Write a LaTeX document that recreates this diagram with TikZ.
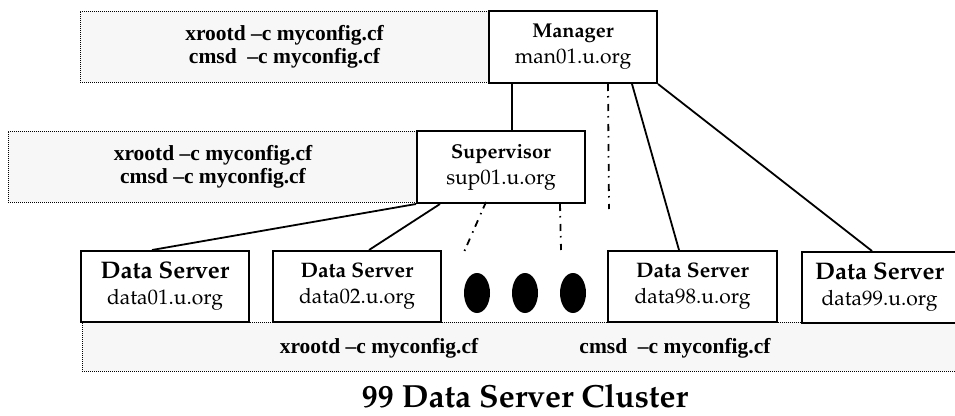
\documentclass[tikz,border=0pt]{standalone}
\usepackage{fontspec}
\usepackage[T1,TU]{fontenc}
\setmainfont{Liberation Serif}
\usetikzlibrary{shapes.geometric}
\newcommand\palfont{\fontencoding{T1}\fontfamily{ppl}\selectfont}
\newcommand\hostA[2]{{\fontsize{20}{26}\selectfont\bfseries #1}\\{\fontsize{21}{26}\selectfont #2}}
\newcommand\hostB[2]{{\fontsize{21}{24}\selectfont\bfseries #1}\\{\fontsize{21}{24}\selectfont #2}}
\newcommand\hostC[2]{{\fontsize{24}{24}\selectfont\bfseries #1}\\{\fontsize{21}{24}\selectfont #2}}
\definecolor{grayfill}{HTML}{F7F7F7}
\tikzset{
  graybox/.style={draw=black, densely dotted, line width=1pt, fill=grayfill, inner sep=0pt},
  hostbox/.style={draw=black, line width=2pt, fill=white, inner sep=0pt, align=center,
    font=\palfont\fontsize{20}{26}\selectfont},
  cmdtext/.style={font=\fontsize{21.5}{23}\selectfont\bfseries, align=center, inner sep=0pt},
  conn/.style={line width=1.8pt},
  dconn/.style={line width=1.8pt, dash pattern=on 7pt off 5pt on 1.5pt off 6.5pt},
  dot/.style={ellipse, fill=black, minimum width=26pt, minimum height=40pt, inner sep=0pt},
}
\begin{document}
\begin{tikzpicture}[x=1pt,y=-1pt]
\useasboundingbox (0,0) rectangle (955,415);
% gray command boxes
\node[graybox, minimum width=409pt, minimum height=71pt] (g1) at (284.5,46.5) {};
\node[cmdtext] (t1) at (284.5,46.5) {xrootd –c myconfig.cf\\cmsd\ \ –c myconfig.cf};
\node[graybox, minimum width=409pt, minimum height=71pt] (g2) at (212.5,166.5) {};
\node[cmdtext] (t2) at (213,166.5) {xrootd –c myconfig.cf\\cmsd –c myconfig.cf};
\node[graybox, minimum width=890pt, minimum height=49pt] (g3) at (527,346.5) {};
\node[cmdtext] (t3) at (379,348) {xrootd –c myconfig.cf};
\node[cmdtext] (t4) at (675,348) {cmsd\ \ –c myconfig.cf};
% hosts
\node[hostbox, minimum width=168pt, minimum height=72pt] (man) at (573,47)
  {\hostA{Manager}{man01.u.org}};
\node[hostbox, minimum width=168pt, minimum height=72pt] (sup) at (501,167)
  {\hostA{Supervisor}{sup01.u.org}};
\node[hostbox, minimum width=168pt, minimum height=71pt] (d01) at (165,286.5)
  {\hostC{Data Server}{data01.u.org}};
\node[hostbox, minimum width=168pt, minimum height=71pt] (d02) at (357,286.5)
  {\hostB{Data Server}{data02.u.org}};
\node[hostbox, minimum width=169pt, minimum height=71pt] (d98) at (692.5,286.5)
  {\hostB{Data Server}{data98.u.org}};
\node[hostbox, minimum width=170pt, minimum height=71pt, anchor=north west] (d99) at (801,251)
  {\hspace*{-15pt}\begin{tabular}{@{}c@{}}\hostC{Data Server}{data99.u.org}\end{tabular}};
% ellipsis dots
\node[dot] (e1) at (477,293) {};
\node[dot] (e2) at (525,293) {};
\node[dot] (e3) at (573,293) {};
% free ends of dash-dot connectors
\coordinate (m3) at (609,209);
\coordinate (s3) at (464,252);
\coordinate (s4) at (561,250);
% connectors
\draw[conn] ([xshift=24pt]man.south west) -- ([xshift=96pt]sup.north west);
\draw[conn] ([xshift=144pt]man.south west) -- ([xshift=72pt]d98.north west);
\draw[conn] (man.south east) -- ([xshift=71pt]d99.north west);
\draw[conn] (sup.south west) -- ([xshift=72pt]d01.north west);
\draw[conn] ([xshift=24pt]sup.south west) -- ([xshift=97pt]d02.north west);
\draw[dconn] ([xshift=120pt]man.south west) -- (m3);
\draw[dconn] ([xshift=70pt,yshift=2pt]sup.south west) -- (s3);
\draw[dconn] ([xshift=144pt]sup.south west) -- (s4);
% title
\node[inner sep=0pt, font=\palfont\fontsize{32}{36}\selectfont\bfseries] (title) at (525,396) {99 Data Server Cluster};
\end{tikzpicture}
\end{document}
